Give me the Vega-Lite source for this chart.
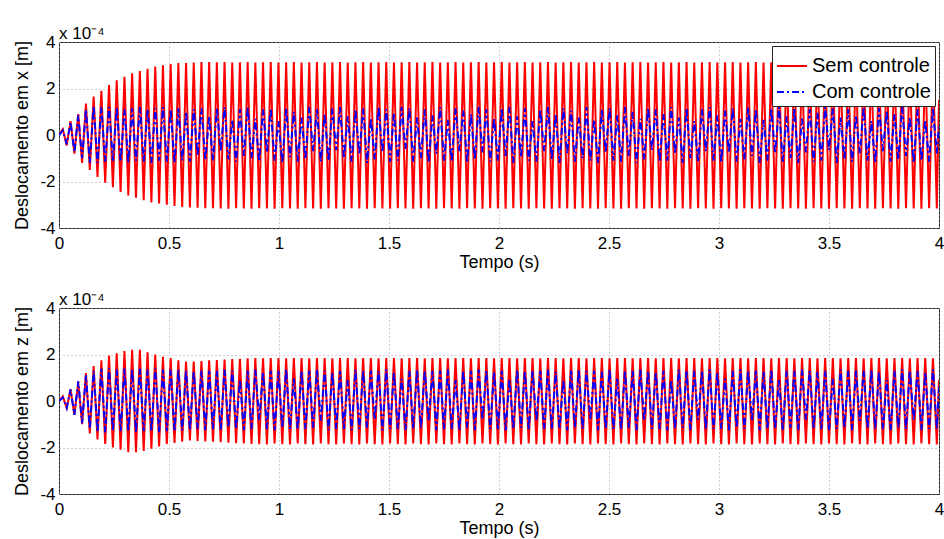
{
"$schema":"https://vega.github.io/schema/vega-lite/v6.json",
"background":"white",
"padding":{"left":13,"top":24,"right":4,"bottom":2},
"spacing":18,
"config":{
"view":{"stroke":"#262626","strokeWidth":1},
"font":"Liberation Sans",
"axis":{"labelFont":"Liberation Sans","labelFontSize":17,"labelColor":"#000","titleFont":"Liberation Sans","titleFontSize":18,"titleFontWeight":"normal","titleColor":"#000","domain":false,"grid":true,"gridColor":"#a0a0a0","gridDash":[1,3],"gridWidth":1,"ticks":false,"labelFlush":false,"labelOverlap":false},
"axisX":{"labelPadding":7,"titlePadding":2},
"axisY":{"labelPadding":4,"titlePadding":8},
"legend":{"orient":"top-right","offset":4,"labelFont":"Liberation Sans","labelFontSize":20,"labelColor":"#000","symbolType":"stroke","symbolSize":900,"symbolStrokeWidth":1.5,"strokeColor":"#262626","fillColor":"white","padding":4,"rowPadding":0,"labelOffset":4,"cornerRadius":0},
"title":{"anchor":"start","frame":"group","font":"Liberation Sans","fontSize":17,"fontWeight":"normal","color":"#000","offset":-10}
},
"resolve":{"scale":{"color":"independent","strokeDash":"independent","strokeWidth":"independent"},"legend":{"color":"independent","strokeDash":"independent"}},
"datasets":{"d":[
{"t":0,"a":0,"b":0,"c":0,"d":0},
{"t":0.0175,"a":0.25,"b":0.2,"c":0.2,"d":0.15},
{"t":0.035,"a":-0.45,"b":-0.4,"c":-0.3,"d":-0.3},
{"t":0.0525,"a":0.6,"b":0.55,"c":0.5,"d":0.5},
{"t":0.07,"a":-0.8,"b":-0.75,"c":-0.6,"d":-0.6},
{"t":0.0875,"a":0.9,"b":0.85,"c":0.8,"d":0.85},
{"t":0.105,"a":-1.2,"b":-1.0,"c":-1.0,"d":-0.95},
{"t":0.1225,"a":1.35,"b":1.1,"c":1.2,"d":1.1},
{"t":0.14,"a":-1.5,"b":-1.2,"c":-1.4,"d":-1.2},
{"t":0.1575,"a":1.65,"b":1.25,"c":1.5,"d":1.3},
{"t":0.175,"a":-1.8,"b":-1.2,"c":-1.65,"d":-1.35},
{"t":0.1925,"a":1.9,"b":1.2,"c":1.75,"d":1.4},
{"t":0.21,"a":-2.05,"b":-1.15,"c":-1.85,"d":-1.35},
{"t":0.2275,"a":2.15,"b":1.2,"c":1.95,"d":1.4},
{"t":0.245,"a":-2.25,"b":-1.1,"c":-2.0,"d":-1.3},
{"t":0.2625,"a":2.35,"b":1.2,"c":2.05,"d":1.35},
{"t":0.28,"a":-2.45,"b":-1.15,"c":-2.1,"d":-1.3},
{"t":0.2975,"a":2.5,"b":1.1,"c":2.15,"d":1.4},
{"t":0.315,"a":-2.6,"b":-1.2,"c":-2.2,"d":-1.3},
{"t":0.3325,"a":2.65,"b":1.15,"c":2.2,"d":1.35},
{"t":0.35,"a":-2.7,"b":-1.1,"c":-2.2,"d":-1.35},
{"t":0.3675,"a":2.75,"b":1.2,"c":2.2,"d":1.4},
{"t":0.385,"a":-2.8,"b":-1.15,"c":-2.15,"d":-1.3},
{"t":0.4025,"a":2.85,"b":1.1,"c":2.1,"d":1.35},
{"t":0.42,"a":-2.9,"b":-1.2,"c":-2.05,"d":-1.3},
{"t":0.4375,"a":2.95,"b":1.15,"c":2.0,"d":1.4},
{"t":0.455,"a":-2.95,"b":-1.1,"c":-1.95,"d":-1.35},
{"t":0.4725,"a":3.0,"b":1.2,"c":1.9,"d":1.35},
{"t":0.49,"a":-3.0,"b":-1.15,"c":-1.85,"d":-1.3},
{"t":0.5075,"a":3.05,"b":1.1,"c":1.85,"d":1.35},
{"t":0.525,"a":-3.05,"b":-1.2,"c":-1.8,"d":-1.3},
{"t":0.5425,"a":3.1,"b":1.15,"c":1.75,"d":1.35},
{"t":0.56,"a":-3.1,"b":-1.1,"c":-1.75,"d":-1.25},
{"t":0.5775,"a":3.1,"b":1.0,"c":1.7,"d":1.3},
{"t":0.595,"a":-3.12,"b":-1.15,"c":-1.7,"d":-1.25},
{"t":0.6125,"a":3.12,"b":1.1,"c":1.7,"d":1.3},
{"t":0.63,"a":-3.13,"b":-0.9,"c":-1.72,"d":-1.2},
{"t":0.6475,"a":3.14,"b":1.15,"c":1.72,"d":1.3},
{"t":0.665,"a":-3.15,"b":-1.1,"c":-1.74,"d":-1.25},
{"t":0.6825,"a":3.14,"b":0.8,"c":1.75,"d":1.3},
{"t":0.7,"a":-3.15,"b":-1.1,"c":-1.75,"d":-1.2},
{"t":0.7175,"a":3.13,"b":1.15,"c":1.76,"d":1.3},
{"t":0.735,"a":-3.16,"b":-0.7,"c":-1.77,"d":-1.25},
{"t":0.7525,"a":3.14,"b":1.2,"c":1.78,"d":1.35},
{"t":0.77,"a":-3.17,"b":-1.05,"c":-1.79,"d":-1.15},
{"t":0.7875,"a":3.12,"b":0.65,"c":1.8,"d":1.3},
{"t":0.805,"a":-3.15,"b":-1.15,"c":-1.81,"d":-1.2},
{"t":0.8225,"a":3.13,"b":1.1,"c":1.82,"d":0.9},
{"t":0.84,"a":-3.16,"b":-0.9,"c":-1.83,"d":-1.25},
{"t":0.8575,"a":3.14,"b":1.2,"c":1.84,"d":1.3},
{"t":0.875,"a":-3.17,"b":-1.0,"c":-1.85,"d":-1.2},
{"t":0.8925,"a":3.12,"b":0.7,"c":1.85,"d":1.35},
{"t":0.91,"a":-3.15,"b":-1.15,"c":-1.86,"d":-0.8},
{"t":0.9275,"a":3.13,"b":1.1,"c":1.84,"d":1.25},
{"t":0.945,"a":-3.16,"b":-0.75,"c":-1.87,"d":-1.2},
{"t":0.9625,"a":3.14,"b":1.15,"c":1.85,"d":1.3},
{"t":0.98,"a":-3.17,"b":-1.1,"c":-1.83,"d":-1.25},
{"t":0.9975,"a":3.12,"b":0.6,"c":1.85,"d":1.3},
{"t":1.015,"a":-3.15,"b":-1.2,"c":-1.86,"d":-1.15},
{"t":1.0325,"a":3.13,"b":1.15,"c":1.84,"d":1.35},
{"t":1.05,"a":-3.16,"b":-0.95,"c":-1.87,"d":-1.2},
{"t":1.0675,"a":3.14,"b":1.0,"c":1.85,"d":0.95},
{"t":1.085,"a":-3.17,"b":-1.15,"c":-1.83,"d":-1.25},
{"t":1.1025,"a":3.12,"b":0.75,"c":1.85,"d":1.3},
{"t":1.12,"a":-3.15,"b":-1.05,"c":-1.86,"d":-1.2},
{"t":1.1375,"a":3.13,"b":1.2,"c":1.84,"d":1.3},
{"t":1.155,"a":-3.16,"b":-0.7,"c":-1.87,"d":-1.15},
{"t":1.1725,"a":3.14,"b":1.1,"c":1.85,"d":1.35},
{"t":1.19,"a":-3.17,"b":-1.15,"c":-1.83,"d":-0.85},
{"t":1.2075,"a":3.12,"b":0.9,"c":1.85,"d":1.3},
{"t":1.225,"a":-3.15,"b":-1.1,"c":-1.86,"d":-1.25},
{"t":1.2425,"a":3.13,"b":1.15,"c":1.84,"d":1.25},
{"t":1.26,"a":-3.16,"b":-0.65,"c":-1.87,"d":-1.2},
{"t":1.2775,"a":3.14,"b":1.2,"c":1.85,"d":1.3},
{"t":1.295,"a":-3.17,"b":-1.0,"c":-1.83,"d":-1.2},
{"t":1.3125,"a":3.12,"b":0.8,"c":1.85,"d":0.9},
{"t":1.33,"a":-3.15,"b":-1.15,"c":-1.86,"d":-1.25},
{"t":1.3475,"a":3.13,"b":1.1,"c":1.84,"d":1.35},
{"t":1.365,"a":-3.16,"b":-0.85,"c":-1.87,"d":-1.2},
{"t":1.3825,"a":3.14,"b":1.15,"c":1.85,"d":1.3},
{"t":1.4,"a":-3.17,"b":-1.2,"c":-1.83,"d":-1.15},
{"t":1.4175,"a":3.12,"b":0.7,"c":1.85,"d":1.3},
{"t":1.435,"a":-3.15,"b":-1.05,"c":-1.86,"d":-0.8},
{"t":1.4525,"a":3.13,"b":1.2,"c":1.84,"d":1.3},
{"t":1.47,"a":-3.16,"b":-0.75,"c":-1.87,"d":-1.25},
{"t":1.4875,"a":3.14,"b":1.1,"c":1.85,"d":1.35},
{"t":1.505,"a":-3.17,"b":-1.15,"c":-1.83,"d":-1.2},
{"t":1.5225,"a":3.12,"b":0.95,"c":1.85,"d":1.25},
{"t":1.54,"a":-3.15,"b":-1.1,"c":-1.86,"d":-1.2},
{"t":1.5575,"a":3.13,"b":1.2,"c":1.84,"d":0.95},
{"t":1.575,"a":-3.16,"b":-0.6,"c":-1.87,"d":-1.25},
{"t":1.5925,"a":3.14,"b":1.15,"c":1.85,"d":1.3},
{"t":1.61,"a":-3.17,"b":-1.15,"c":-1.83,"d":-1.2},
{"t":1.6275,"a":3.12,"b":0.75,"c":1.85,"d":1.35},
{"t":1.645,"a":-3.15,"b":-1.0,"c":-1.86,"d":-1.15},
{"t":1.6625,"a":3.13,"b":1.1,"c":1.84,"d":1.3},
{"t":1.68,"a":-3.16,"b":-1.2,"c":-1.87,"d":-0.85},
{"t":1.6975,"a":3.14,"b":0.85,"c":1.85,"d":1.3},
{"t":1.715,"a":-3.17,"b":-0.8,"c":-1.83,"d":-1.25},
{"t":1.7325,"a":3.12,"b":1.2,"c":1.85,"d":1.3},
{"t":1.75,"a":-3.15,"b":-1.1,"c":-1.86,"d":-1.2},
{"t":1.7675,"a":3.13,"b":0.65,"c":1.84,"d":1.35},
{"t":1.785,"a":-3.16,"b":-1.15,"c":-1.87,"d":-1.2},
{"t":1.8025,"a":3.14,"b":1.15,"c":1.85,"d":0.9},
{"t":1.82,"a":-3.17,"b":-0.7,"c":-1.83,"d":-1.25},
{"t":1.8375,"a":3.12,"b":1.05,"c":1.85,"d":1.3},
{"t":1.855,"a":-3.15,"b":-1.2,"c":-1.86,"d":-1.15},
{"t":1.8725,"a":3.13,"b":0.9,"c":1.84,"d":1.3},
{"t":1.89,"a":-3.16,"b":-1.05,"c":-1.87,"d":-1.25},
{"t":1.9075,"a":3.14,"b":1.2,"c":1.85,"d":1.35},
{"t":1.925,"a":-3.17,"b":-0.75,"c":-1.83,"d":-0.8},
{"t":1.9425,"a":3.12,"b":1.1,"c":1.85,"d":1.3},
{"t":1.96,"a":-3.15,"b":-1.15,"c":-1.86,"d":-1.2},
{"t":1.9775,"a":3.13,"b":0.7,"c":1.84,"d":1.25},
{"t":1.995,"a":-3.16,"b":-1.1,"c":-1.87,"d":-1.2},
{"t":2.0125,"a":3.14,"b":1.15,"c":1.85,"d":1.3},
{"t":2.03,"a":-3.17,"b":-0.9,"c":-1.83,"d":-1.25},
{"t":2.0475,"a":3.12,"b":1.2,"c":1.85,"d":0.95},
{"t":2.065,"a":-3.15,"b":-1.2,"c":-1.86,"d":-1.2},
{"t":2.0825,"a":3.13,"b":0.8,"c":1.84,"d":1.35},
{"t":2.1,"a":-3.16,"b":-0.95,"c":-1.87,"d":-1.15},
{"t":2.1175,"a":3.14,"b":1.15,"c":1.85,"d":1.3},
{"t":2.135,"a":-3.17,"b":-1.1,"c":-1.83,"d":-1.25},
{"t":2.1525,"a":3.12,"b":0.6,"c":1.85,"d":1.3},
{"t":2.17,"a":-3.15,"b":-1.15,"c":-1.86,"d":-0.85},
{"t":2.1875,"a":3.13,"b":1.1,"c":1.84,"d":1.3},
{"t":2.205,"a":-3.16,"b":-0.7,"c":-1.87,"d":-1.2},
{"t":2.2225,"a":3.14,"b":1.2,"c":1.85,"d":1.35},
{"t":2.24,"a":-3.17,"b":-1.05,"c":-1.83,"d":-1.2},
{"t":2.2575,"a":3.12,"b":0.9,"c":1.85,"d":1.25},
{"t":2.275,"a":-3.15,"b":-1.2,"c":-1.86,"d":-1.2},
{"t":2.2925,"a":3.13,"b":1.15,"c":1.84,"d":0.9},
{"t":2.31,"a":-3.16,"b":-0.8,"c":-1.87,"d":-1.25},
{"t":2.3275,"a":3.14,"b":1.05,"c":1.85,"d":1.3},
{"t":2.345,"a":-3.17,"b":-1.15,"c":-1.83,"d":-1.15},
{"t":2.3625,"a":3.12,"b":0.75,"c":1.85,"d":1.35},
{"t":2.38,"a":-3.15,"b":-1.0,"c":-1.86,"d":-1.2},
{"t":2.3975,"a":3.13,"b":1.2,"c":1.84,"d":1.3},
{"t":2.415,"a":-3.16,"b":-1.1,"c":-1.87,"d":-0.8},
{"t":2.4325,"a":3.14,"b":0.65,"c":1.85,"d":1.3},
{"t":2.45,"a":-3.17,"b":-1.2,"c":-1.83,"d":-1.25},
{"t":2.4675,"a":3.12,"b":1.1,"c":1.85,"d":1.25},
{"t":2.485,"a":-3.15,"b":-0.75,"c":-1.86,"d":-1.2},
{"t":2.5025,"a":3.13,"b":1.15,"c":1.84,"d":1.35},
{"t":2.52,"a":-3.16,"b":-1.1,"c":-1.87,"d":-1.2},
{"t":2.5375,"a":3.14,"b":0.85,"c":1.85,"d":0.95},
{"t":2.555,"a":-3.17,"b":-1.15,"c":-1.83,"d":-1.25},
{"t":2.5725,"a":3.12,"b":1.2,"c":1.85,"d":1.3},
{"t":2.59,"a":-3.15,"b":-0.9,"c":-1.86,"d":-1.15},
{"t":2.6075,"a":3.13,"b":1.0,"c":1.84,"d":1.3},
{"t":2.625,"a":-3.16,"b":-1.2,"c":-1.87,"d":-1.25},
{"t":2.6425,"a":3.14,"b":0.7,"c":1.85,"d":1.35},
{"t":2.66,"a":-3.17,"b":-1.05,"c":-1.83,"d":-0.85},
{"t":2.6775,"a":3.12,"b":1.15,"c":1.85,"d":1.3},
{"t":2.695,"a":-3.15,"b":-0.65,"c":-1.86,"d":-1.2},
{"t":2.7125,"a":3.13,"b":1.1,"c":1.84,"d":1.25},
{"t":2.73,"a":-3.16,"b":-1.15,"c":-1.87,"d":-1.2},
{"t":2.7475,"a":3.14,"b":0.9,"c":1.85,"d":1.3},
{"t":2.765,"a":-3.17,"b":-1.1,"c":-1.83,"d":-1.25},
{"t":2.7825,"a":3.12,"b":1.2,"c":1.85,"d":0.9},
{"t":2.8,"a":-3.15,"b":-0.8,"c":-1.86,"d":-1.2},
{"t":2.8175,"a":3.13,"b":0.75,"c":1.84,"d":1.35},
{"t":2.835,"a":-3.16,"b":-1.2,"c":-1.87,"d":-1.15},
{"t":2.8525,"a":3.14,"b":1.15,"c":1.85,"d":1.3},
{"t":2.87,"a":-3.17,"b":-1.0,"c":-1.83,"d":-1.25},
{"t":2.8875,"a":3.12,"b":0.6,"c":1.85,"d":1.3},
{"t":2.905,"a":-3.15,"b":-1.15,"c":-1.86,"d":-0.8},
{"t":2.9225,"a":3.13,"b":1.1,"c":1.84,"d":1.3},
{"t":2.94,"a":-3.16,"b":-0.7,"c":-1.87,"d":-1.2},
{"t":2.9575,"a":3.14,"b":1.2,"c":1.85,"d":1.35},
{"t":2.975,"a":-3.17,"b":-1.1,"c":-1.83,"d":-1.2},
{"t":2.9925,"a":3.12,"b":0.85,"c":1.85,"d":1.25},
{"t":3.01,"a":-3.15,"b":-1.2,"c":-1.86,"d":-1.2},
{"t":3.0275,"a":3.13,"b":1.05,"c":1.84,"d":0.95},
{"t":3.045,"a":-3.16,"b":-0.75,"c":-1.87,"d":-1.25},
{"t":3.0625,"a":3.14,"b":1.15,"c":1.85,"d":1.3},
{"t":3.08,"a":-3.17,"b":-1.15,"c":-1.83,"d":-1.15},
{"t":3.0975,"a":3.12,"b":0.7,"c":1.85,"d":1.35},
{"t":3.115,"a":-3.15,"b":-1.05,"c":-1.86,"d":-1.2},
{"t":3.1325,"a":3.13,"b":1.2,"c":1.84,"d":1.3},
{"t":3.15,"a":-3.16,"b":-0.9,"c":-1.87,"d":-0.85},
{"t":3.1675,"a":3.14,"b":1.1,"c":1.85,"d":1.3},
{"t":3.185,"a":-3.17,"b":-1.2,"c":-1.83,"d":-1.25},
{"t":3.2025,"a":3.12,"b":0.65,"c":1.85,"d":1.25},
{"t":3.22,"a":-3.15,"b":-1.1,"c":-1.86,"d":-1.2},
{"t":3.2375,"a":3.13,"b":1.15,"c":1.84,"d":1.35},
{"t":3.255,"a":-3.16,"b":-0.8,"c":-1.87,"d":-1.2},
{"t":3.2725,"a":3.14,"b":1.2,"c":1.85,"d":0.9},
{"t":3.29,"a":-3.17,"b":-1.15,"c":-1.83,"d":-1.25},
{"t":3.3075,"a":3.12,"b":0.8,"c":1.85,"d":1.3},
{"t":3.325,"a":-3.15,"b":-1.0,"c":-1.86,"d":-1.15},
{"t":3.3425,"a":3.13,"b":1.15,"c":1.84,"d":1.3},
{"t":3.36,"a":-3.16,"b":-1.2,"c":-1.87,"d":-1.25},
{"t":3.3775,"a":3.14,"b":0.7,"c":1.85,"d":1.35},
{"t":3.395,"a":-3.17,"b":-0.75,"c":-1.83,"d":-0.8},
{"t":3.4125,"a":3.12,"b":1.1,"c":1.85,"d":1.3},
{"t":3.43,"a":-3.15,"b":-1.15,"c":-1.86,"d":-1.2},
{"t":3.4475,"a":3.13,"b":0.95,"c":1.84,"d":1.25},
{"t":3.465,"a":-3.16,"b":-1.1,"c":-1.87,"d":-1.2},
{"t":3.4825,"a":3.14,"b":1.2,"c":1.85,"d":1.3},
{"t":3.5,"a":-3.17,"b":-0.65,"c":-1.83,"d":-1.25},
{"t":3.5175,"a":3.12,"b":1.15,"c":1.85,"d":0.95},
{"t":3.535,"a":-3.15,"b":-1.2,"c":-1.86,"d":-1.2},
{"t":3.5525,"a":3.13,"b":0.75,"c":1.84,"d":1.35},
{"t":3.57,"a":-3.16,"b":-1.05,"c":-1.87,"d":-1.15},
{"t":3.5875,"a":3.14,"b":1.1,"c":1.85,"d":1.3},
{"t":3.605,"a":-3.17,"b":-1.15,"c":-1.83,"d":-1.25},
{"t":3.6225,"a":3.12,"b":0.85,"c":1.85,"d":1.3},
{"t":3.64,"a":-3.15,"b":-0.8,"c":-1.86,"d":-0.85},
{"t":3.6575,"a":3.13,"b":1.2,"c":1.84,"d":1.3},
{"t":3.675,"a":-3.16,"b":-1.1,"c":-1.87,"d":-1.2},
{"t":3.6925,"a":3.14,"b":0.6,"c":1.85,"d":1.35},
{"t":3.71,"a":-3.17,"b":-1.2,"c":-1.83,"d":-1.2},
{"t":3.7275,"a":3.12,"b":1.15,"c":1.85,"d":1.25},
{"t":3.745,"a":-3.15,"b":-0.7,"c":-1.86,"d":-1.2},
{"t":3.7625,"a":3.13,"b":1.05,"c":1.84,"d":0.9},
{"t":3.78,"a":-3.16,"b":-1.15,"c":-1.87,"d":-1.25},
{"t":3.7975,"a":3.14,"b":0.9,"c":1.85,"d":1.3},
{"t":3.815,"a":-3.17,"b":-1.05,"c":-1.83,"d":-1.15},
{"t":3.8325,"a":3.12,"b":1.2,"c":1.85,"d":1.35},
{"t":3.85,"a":-3.15,"b":-0.9,"c":-1.86,"d":-1.2},
{"t":3.8675,"a":3.13,"b":0.75,"c":1.84,"d":1.3},
{"t":3.885,"a":-3.16,"b":-1.2,"c":-1.87,"d":-0.8},
{"t":3.9025,"a":3.14,"b":1.1,"c":1.85,"d":1.3},
{"t":3.92,"a":-3.17,"b":-1.1,"c":-1.83,"d":-1.25},
{"t":3.9375,"a":3.12,"b":0.65,"c":1.85,"d":1.25},
{"t":3.955,"a":-3.15,"b":-1.15,"c":-1.86,"d":-1.2},
{"t":3.9725,"a":3.13,"b":1.15,"c":1.84,"d":1.35},
{"t":3.99,"a":-3.16,"b":-0.8,"c":-1.87,"d":-1.2},
{"t":4.0,"a":1.5,"b":0.4,"c":0.9,"d":0.6}
]},
"vconcat":[
{
"width":880,"height":186,
"title":{"text":"x 10⁻⁴"},
"data":{"name":"d"},
"transform":[{"fold":["a","b"],"as":["s","v"]}],
"mark":{"type":"line","clip":true},
"encoding":{
"x":{"field":"t","type":"quantitative","scale":{"domain":[0,4],"nice":false,"zero":false},"axis":{"values":[0,0.5,1,1.5,2,2.5,3,3.5,4],"labelExpr":"toString(datum.value)","title":"Tempo (s)"}},
"y":{"field":"v","type":"quantitative","scale":{"domain":[-4,4],"nice":false},"axis":{"values":[-4,-2,0,2,4],"labelExpr":"toString(datum.value)","title":"Deslocamento em x [m]"}},
"color":{"field":"s","type":"nominal","scale":{"domain":["a","b"],"range":["#ff0000","#0000ff"]},"legend":{"title":null,"labelExpr":"datum.value == 'a' ? 'Sem controle' : 'Com controle'"}},
"strokeDash":{"field":"s","type":"nominal","scale":{"domain":["a","b"],"range":[[1,0],[7,3,2,3]]},"legend":{"title":null,"labelExpr":"datum.value == 'a' ? 'Sem controle' : 'Com controle'"}},
"strokeWidth":{"field":"s","type":"nominal","scale":{"domain":["a","b"],"range":[2,2]},"legend":null}
}
},
{
"width":880,"height":186,
"title":{"text":"x 10⁻⁴"},
"data":{"name":"d"},
"transform":[{"fold":["c","d"],"as":["s","v"]}],
"mark":{"type":"line","clip":true},
"encoding":{
"x":{"field":"t","type":"quantitative","scale":{"domain":[0,4],"nice":false,"zero":false},"axis":{"values":[0,0.5,1,1.5,2,2.5,3,3.5,4],"labelExpr":"toString(datum.value)","title":"Tempo (s)"}},
"y":{"field":"v","type":"quantitative","scale":{"domain":[-4,4],"nice":false},"axis":{"values":[-4,-2,0,2,4],"labelExpr":"toString(datum.value)","title":"Deslocamento em z [m]"}},
"color":{"field":"s","type":"nominal","scale":{"domain":["c","d"],"range":["#ff0000","#0000ff"]},"legend":null},
"strokeDash":{"field":"s","type":"nominal","scale":{"domain":["c","d"],"range":[[1,0],[7,3,2,3]]},"legend":null},
"strokeWidth":{"field":"s","type":"nominal","scale":{"domain":["c","d"],"range":[2,2]},"legend":null}
}
}
]
}
